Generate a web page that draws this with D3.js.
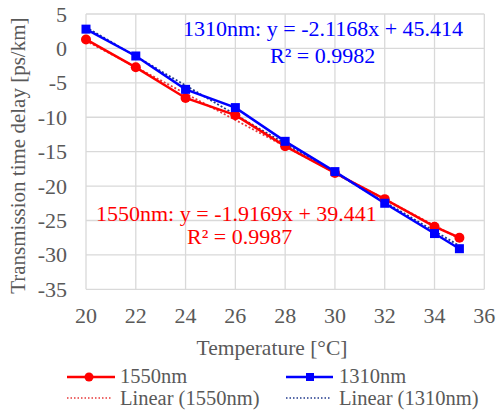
<!DOCTYPE html>
<html><head><meta charset="utf-8">
<script src="https://cdn.jsdelivr.net/npm/d3@7"></script>
<style>body{margin:0;background:#fff}</style>
</head><body><svg id="c" width="496" height="413"></svg>
<script>
const temps = [20, 22, 24, 26, 28, 30, 32, 34, 35];
const s1550 = [1.3, -2.75, -7.2, -9.7, -14.2, -18.1, -21.9, -25.9, -27.5];
const s1310 = [2.8, -1.1, -5.95, -8.6, -13.5, -17.9, -22.5, -26.9, -29.1];
const fit1550 = {slope: -1.9169, intercept: 39.441, r2: "0.9987"};
const fit1310 = {slope: -2.1168, intercept: 45.414, r2: "0.9982"};
const xTicks = [20, 22, 24, 26, 28, 30, 32, 34, 36];
const yTicks = [5, 0, -5, -10, -15, -20, -25, -30, -35];

const FONT = '"Liberation Serif", "Times New Roman", serif';
const svg = d3.select("#c");
const L = 86, R = 484.3, T = 14, B = 289.3;
const x = d3.scaleLinear().domain([20, 36]).range([L, R]);
const y = d3.scaleLinear().domain([-35, 5]).range([B, T]);
const grid = "#d9d9d9", tc = "#595959";

// gridlines
svg.append("g").selectAll("line").data(yTicks).join("line")
  .attr("x1", L).attr("x2", R).attr("y1", d => y(d)).attr("y2", d => y(d))
  .attr("stroke", grid).attr("stroke-width", 1.3);
svg.append("g").selectAll("line").data(xTicks).join("line")
  .attr("y1", T).attr("y2", B).attr("x1", d => x(d)).attr("x2", d => x(d))
  .attr("stroke", grid).attr("stroke-width", 1.3);

// tick labels
svg.append("g").selectAll("text").data(xTicks).join("text")
  .attr("x", d => x(d)).attr("y", 323).attr("text-anchor", "middle")
  .attr("fill", tc).style("font-size", "22px").style("font-family", FONT).text(d => d);
svg.append("g").selectAll("text").data(yTicks).join("text")
  .attr("x", L - 19).attr("y", d => y(d) + 7.5).attr("text-anchor", "end")
  .attr("fill", tc).style("font-size", "22px").style("font-family", FONT)
  .text(d => d < 0 ? "-" + Math.abs(d) : d);

svg.append("text").attr("x", 272).attr("y", 355).attr("text-anchor", "middle")
  .attr("fill", tc).style("font-size", "21.5px").style("font-family", FONT).text("Temperature [°C]");
svg.append("text").attr("transform", `translate(25,${(T + B) / 2 + 4}) rotate(-90)`)
  .attr("text-anchor", "middle").attr("fill", tc).style("font-size", "21px").style("font-family", FONT)
  .text("Transmission time delay [ps/km]");

// trendlines
const tl = [[fit1550, "#e8383a"], [fit1310, "#203a8c"]];
tl.forEach(([f, c]) => {
  svg.append("line").attr("x1", x(20)).attr("x2", x(35))
    .attr("y1", y(f.slope * 20 + f.intercept)).attr("y2", y(f.slope * 35 + f.intercept))
    .attr("stroke", c).attr("stroke-width", 1.8).attr("stroke-dasharray", "2,2");
});

// series
const line = d3.line().x(d => x(d[0])).y(d => y(d[1]));
const d1550 = temps.map((t, i) => [t, s1550[i]]);
const d1310 = temps.map((t, i) => [t, s1310[i]]);
svg.append("path").attr("d", line(d1550)).attr("fill", "none").attr("stroke", "#ff0000").attr("stroke-width", 2.5);
svg.append("path").attr("d", line(d1310)).attr("fill", "none").attr("stroke", "#0000ff").attr("stroke-width", 2.5);
svg.append("g").selectAll("circle").data(d1550).join("circle")
  .attr("cx", d => x(d[0])).attr("cy", d => y(d[1])).attr("r", 5).attr("fill", "#ff0000");
svg.append("g").selectAll("rect").data(d1310).join("rect")
  .attr("x", d => x(d[0]) - 4.5).attr("y", d => y(d[1]) - 4.5).attr("width", 9).attr("height", 9).attr("fill", "#0000ff");

// equations
function eq(fit, name, xs, ys, xr, yr, col) {
  svg.append("text").attr("x", xs).attr("y", ys).attr("fill", col).style("font-size", "22px").style("font-family", FONT)
    .text(`${name}: y = ${fit.slope}x + ${fit.intercept}`);
  svg.append("text").attr("x", xr).attr("y", yr).attr("fill", col).style("font-size", "22px").style("font-family", FONT)
    .text(`R² = ${fit.r2}`);
}
eq(fit1310, "1310nm", 183, 36, 270, 63, "#0000ff");
eq(fit1550, "1550nm", 96, 221, 187, 244, "#ff0000");

// legend
const lg = svg.append("g");
function ltext(xp, yp, s) {
  lg.append("text").attr("x", xp).attr("y", yp).attr("fill", tc).style("font-size", "20.5px").style("font-family", FONT).text(s);
}
lg.append("line").attr("x1", 67).attr("x2", 115).attr("y1", 377).attr("y2", 377).attr("stroke", "#ff0000").attr("stroke-width", 2.5);
lg.append("circle").attr("cx", 89).attr("cy", 377).attr("r", 4.5).attr("fill", "#ff0000");
ltext(120, 383, "1550nm");
lg.append("line").attr("x1", 286).attr("x2", 333).attr("y1", 377).attr("y2", 377).attr("stroke", "#0000ff").attr("stroke-width", 2.5);
lg.append("rect").attr("x", 306).attr("y", 373).attr("width", 8).attr("height", 8).attr("fill", "#0000ff");
ltext(339, 383, "1310nm");
lg.append("line").attr("x1", 67).attr("x2", 111).attr("y1", 398).attr("y2", 398).attr("stroke", "#e8383a").attr("stroke-width", 1.5).attr("stroke-dasharray", "1.5,2");
ltext(120, 405, "Linear (1550nm)");
lg.append("line").attr("x1", 286).attr("x2", 330).attr("y1", 398).attr("y2", 398).attr("stroke", "#203a8c").attr("stroke-width", 1.5).attr("stroke-dasharray", "1.5,2");
ltext(339, 405, "Linear (1310nm)");
</script></body></html>
